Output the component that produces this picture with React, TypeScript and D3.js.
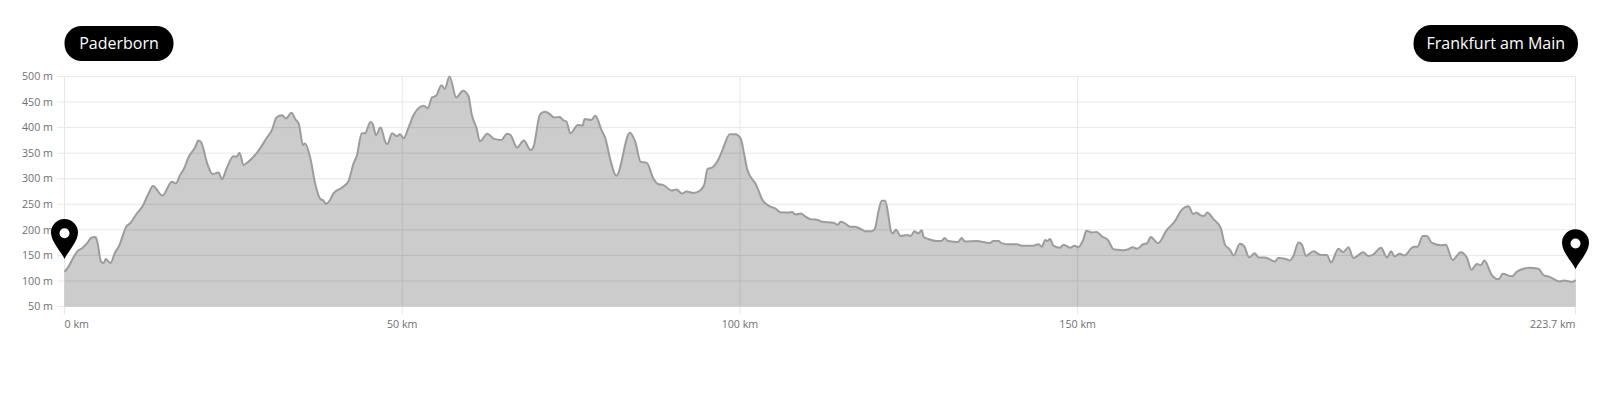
import React from "react";
import * as d3 from "d3";

const distanceKm = [
  0, 0.6, 1.2, 1.9, 2.6, 3.4, 4, 4.6, 4.9, 5.4, 5.8, 6.1, 6.8, 7.5, 8.1, 9.1, 9.8, 10.7, 11.6, 12.4,
  13.1, 14.5, 15.9, 16.5, 17.1, 17.7, 18.4, 19.4, 19.8, 20.2, 21.2, 21.9, 22.8, 23.3, 24, 25, 25.5, 25.9, 26.5, 27.2,
  28.5, 30, 30.7, 31.4, 32.2, 32.8, 33.6, 34.2, 34.7, 35.3, 35.6, 36.4, 37.1, 37.9, 38.3, 38.7, 39.3, 39.8, 41.1, 42,
  42.8, 43.3, 44, 44.5, 45.3, 45.7, 46.1, 46.8, 47.5, 47.8, 48.5, 49.2, 49.7, 50.2, 50.9, 51.7, 52.4, 53.2, 53.8, 54.4,
  55, 55.8, 56.3, 57, 58, 59, 59.8, 60.3, 61, 61.5, 62.6, 63.6, 64.7, 65.5, 66, 67, 68, 69, 69.4, 70.4,
  71.1, 71.6, 72.5, 73.3, 73.9, 74.3, 74.9, 76, 76.7, 77, 78, 78.6, 79.5, 80.1, 80.7, 81.7, 83.7, 84.5, 85.3, 86.2,
  87.2, 88, 88.6, 89.9, 90.6, 91.4, 92.1, 93.1, 94.1, 94.7, 95.2, 95.9, 96.9, 97.4, 98.5, 99.3, 100.1, 100.6, 101.1, 102.4,
  103.4, 104.3, 105.2, 106.1, 107.3, 107.7, 108.2, 109, 109.6, 110.4, 111.6, 112.1, 113.8, 114.5, 114.9, 115.5, 116.3, 117, 118, 118.6,
  119.5, 120, 120.5, 121, 121.5, 122, 122.3, 122.6, 123.1, 123.8, 124.7, 125.3, 125.8, 126.4, 126.9, 127.2, 127.9, 129.1, 129.8, 130.3,
  130.8, 132.3, 132.8, 133.3, 135, 137, 137.5, 138.3, 138.7, 139.5, 141, 141.7, 143.4, 144.2, 144.7, 145.2, 145.5, 145.9, 146.4, 147.4,
  147.9, 148.9, 149.5, 150.1, 150.8, 151.3, 152.1, 152.8, 153.6, 154.5, 155.3, 156, 156.8, 157.5, 158.1, 158.8, 159.7, 160.3, 160.8, 161.9,
  163.2, 164.4, 165.4, 166.4, 167.1, 167.6, 168.1, 168.7, 169.2, 170.1, 171.2, 171.8, 172.5, 173.1, 174, 174.6, 175.4, 176.2, 176.8, 177.7,
  179.2, 179.7, 180.8, 181.4, 181.9, 182.7, 183.2, 183.8, 184.9, 186, 186.9, 187.5, 188.6, 189.3, 190.1, 190.8, 192.3, 193, 193.7, 194.9,
  195.8, 196.4, 196.9, 197.7, 198.4, 199.4, 199.8, 200.3, 201.1, 201.7, 202.4, 203.8, 204.5, 205.5, 206.7, 207.6, 208.3, 209.1, 209.7, 210.2,
  211.3, 212.1, 212.4, 212.9, 214.3, 215, 216.3, 216.8, 218.2, 219, 219.7, 220.7, 221.4, 222, 223.2, 223.7,
];

const elevationM = [
  118, 128, 143, 158, 164, 175, 185, 186, 174, 138, 135, 143, 135, 156, 169, 205, 214, 232, 247, 270,
  286, 267, 294, 291, 307, 320, 343, 363, 375, 372, 327, 309, 312, 299, 320, 344, 343, 351, 327, 333,
  351, 381, 395, 420, 424, 418, 429, 416, 407, 366, 369, 340, 291, 260, 258, 251, 258, 271, 283, 294,
  330, 346, 389, 389, 411, 405, 385, 400, 372, 368, 389, 383, 387, 379, 399, 425, 438, 443, 438, 459,
  462, 483, 476, 500, 459, 472, 462, 425, 399, 373, 388, 378, 376, 388, 386, 361, 375, 356, 361, 426,
  431, 429, 420, 421, 414, 412, 389, 405, 404, 417, 415, 423, 395, 378, 343, 306, 390, 372, 333, 331,
  300, 289, 288, 277, 279, 271, 275, 272, 277, 288, 319, 322, 340, 356, 387, 387, 379, 350, 317, 288,
  257, 247, 242, 234, 234, 235, 230, 232, 227, 221, 219, 216, 214, 210, 216, 213, 206, 206, 201, 197,
  197, 203, 236, 257, 257, 226, 200, 193, 200, 188, 190, 188, 197, 193, 199, 186, 182, 178, 178, 184,
  178, 176, 184, 177, 178, 174, 178, 178, 174, 172, 172, 169, 169, 172, 167, 180, 178, 182, 169, 165,
  171, 165, 169, 166, 180, 198, 195, 196, 187, 180, 162, 161, 160, 162, 166, 163, 172, 174, 186, 174,
  200, 217, 239, 246, 231, 234, 229, 227, 234, 221, 203, 171, 162, 150, 173, 169, 146, 154, 146, 146,
  138, 145, 143, 140, 148, 175, 171, 149, 158, 151, 151, 136, 163, 156, 166, 145, 156, 149, 151, 165,
  146, 158, 148, 153, 150, 164, 167, 167, 188, 188, 175, 170, 171, 141, 156, 146, 122, 133, 131, 140,
  112, 104, 104, 114, 109, 118, 125, 126, 124, 111, 109, 102, 99, 101, 98, 102,
];

const yTicks = [50, 100, 150, 200, 250, 300, 350, 400, 450, 500];
const xTicks = [0, 50, 100, 150, 223.7];

const pinKm = [0, 223.7];
const pinElevationM = [143, 123];

const startLabel = "Paderborn";
const endLabel = "Frankfurt am Main";

const width = 1600;
const height = 400;
const fontFamily = "'Open Sans', sans-serif";

const x = d3.scaleLinear().domain([0, 223.7]).range([64.5, 1575.5]);
const y = d3.scaleLinear().domain([50, 500]).range([306.5, 76.5]);

const profile = distanceKm.map((km, i) => ({ km, m: elevationM[i] }));

const areaPath = d3
  .area<{ km: number; m: number }>()
  .x((d) => x(d.km))
  .y0(y(50))
  .y1((d) => y(d.m))
  .curve(d3.curveMonotoneX)(profile);

const linePath = d3
  .line<{ km: number; m: number }>()
  .x((d) => x(d.km))
  .y((d) => y(d.m))
  .curve(d3.curveMonotoneX)(profile);

// drawn upward from the tip, which sits at 0,0
const pinShape =
  "M0 0 C-3 -7 -13.5 -17 -13.5 -26.5 A13.5 13.5 0 1 1 13.5 -26.5 C13.5 -17 3 -7 0 0 Z";

const xLabel = (t: number) => `${t} km`;

const xAnchor = (i: number) =>
  i === 0 ? "start" : i === xTicks.length - 1 ? "end" : "middle";

export default function App() {
  return (
    <svg
      width={width}
      height={height}
      style={{ position: "absolute", left: 0, top: 0, background: "#fff" }}
      fontFamily={fontFamily}
    >
      {/* grid */}
      {yTicks.map((t) => (
        <g key={t}>
          <line x1={57} x2={x(223.7)} y1={y(t)} y2={y(t)} stroke="#e8e8e8" />
          <text x={53} y={y(t)} dy="0.35em" textAnchor="end" fontSize={10.7} fill="#707070">
            {t} m
          </text>
        </g>
      ))}
      {xTicks.map((t, i) => (
        <g key={t}>
          <line x1={x(t)} x2={x(t)} y1={y(500)} y2={314} stroke="#e8e8e8" />
          <text x={x(t)} y={324} dy="0.35em" textAnchor={xAnchor(i)} fontSize={10.7} fill="#707070">
            {xLabel(t)}
          </text>
        </g>
      ))}

      {/* elevation profile */}
      <path d={areaPath!} fill="rgba(0,0,0,0.2)" />
      <path d={linePath!} fill="none" stroke="#9c9c9c" strokeWidth={2} strokeLinejoin="round" />

      {/* pins */}
      {pinKm.map((km, i) => (
        <g key={km} transform={`translate(${x(km)},${y(pinElevationM[i])})`}>
          <path d={pinShape} fill="#000" />
          <circle cx={0} cy={-25.7} r={5} fill="#fff" />
        </g>
      ))}

      {/* place labels */}
      <rect x={64.5} y={26} width={109} height={35} rx={17} fill="#000" />
      <text x={119} y={43.5} dy="0.35em" textAnchor="middle" fontSize={16} fill="#fff">
        {startLabel}
      </text>
      <rect x={1413.5} y={25} width={164.5} height={37} rx={18} fill="#000" />
      <text x={1495.8} y={43.5} dy="0.35em" textAnchor="middle" fontSize={16} fill="#fff">
        {endLabel}
      </text>
    </svg>
  );
}
